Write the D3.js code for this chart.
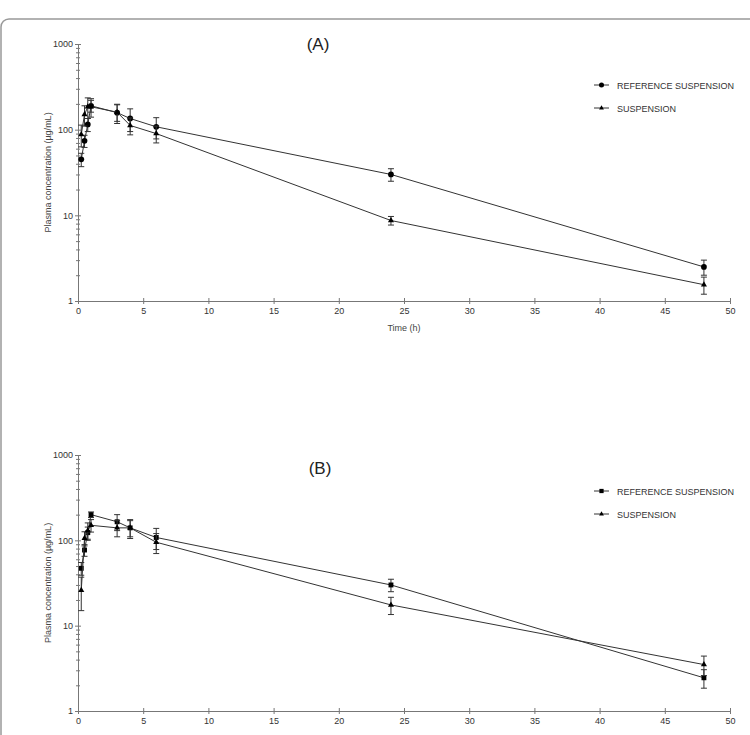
<!DOCTYPE html>
<html>
<head>
  <meta charset="utf-8">
  <title>Plasma concentration</title>
  <script src="https://cdn.jsdelivr.net/npm/d3@7/dist/d3.min.js"></script>
  <style>
    body { margin: 0; background: #fff; }
    svg { display: block; font-family: "Liberation Sans", Arial, sans-serif; }
    .axis path, .axis line { stroke: #777; }
    .axis text { fill: #333; font-size: 9px; }
  </style>
</head>
<body>
<svg id="chart" width="750" height="735"></svg>
<script>
  // sampling times (h)
  const times = [0.25, 0.5, 0.75, 1, 3, 4, 6, 24, 48];
  const seriesNames = ['REFERENCE SUSPENSION', 'SUSPENSION'];
  const xTicks = [0, 5, 10, 15, 20, 25, 30, 35, 40, 45, 50];
  const yLabels = [1, 10, 100, 1000];

  // panel A, mean and SD (µg/mL)
  const refA = [45, 74, 115, 190, 158, 135, 108, 30, 2.5];
  const refA_sd = [8, 12, 20, 30, 40, 40, 30, 5, 0.5];
  const susA = [88, 150, 185, 185, 160, 112, 90, 8.7, 1.55];
  const susA_sd = [25, 40, 50, 45, 35, 25, 20, 1, 0.35];

  // panel B
  const refB = [47, 77, 123, 200, 165, 140, 108, 30, 2.45];
  const refB_sd = [8, 12, 20, 15, 35, 35, 30, 5, 0.6];
  const susB = [26, 106, 130, 150, 140, 140, 95, 17.5, 3.5];
  const susB_sd = [11, 20, 30, 25, 30, 30, 25, 4, 0.9];

  const svg = d3.select('#chart');

  // figure frame (rounded box, only top shows)
  svg.append('rect')
    .attr('x', 1).attr('y', 19)
    .attr('width', 770).attr('height', 800)
    .attr('rx', 8)
    .attr('fill', 'none')
    .attr('stroke', '#999')
    .attr('stroke-width', 1.5);

  function panel(opt) {
    const x = d3.scaleLinear().domain([0, 50]).range([78, 730]);
    const y = d3.scaleLog().domain([1, 1000]).range([opt.bottom, opt.top]);

    // minor ticks for the log axis
    let minor = [];
    [1, 10, 100].forEach(d => { for (let k = 2; k <= 9; k++) minor.push(d * k); });

    const yMinor = svg.append('g')
      .attr('class', 'axis')
      .attr('transform', 'translate(78,0)')
      .call(d3.axisLeft(y).tickValues(minor).tickSize(2).tickFormat(''));
    yMinor.select('.domain').remove();
    yMinor.selectAll('.tick line').attr('x1', 2);

    const yAxis = svg.append('g')
      .attr('class', 'axis')
      .attr('transform', 'translate(78,0)')
      .call(d3.axisLeft(y).tickValues(yLabels).tickSize(3).tickSizeOuter(0)
        .tickFormat(d3.format('d')));
    yAxis.selectAll('.tick line').attr('x1', 3);
    yAxis.selectAll('.tick text').attr('x', -5);

    const xAxis = svg.append('g')
      .attr('class', 'axis')
      .attr('transform', `translate(0,${opt.bottom})`)
      .call(d3.axisBottom(x).tickValues(xTicks).tickSize(3).tickSizeOuter(0));
    xAxis.selectAll('.tick line').attr('y1', -3);
    xAxis.selectAll('.tick text').attr('y', 7);

    svg.append('text')
      .attr('transform', `translate(51,${(opt.top + opt.bottom) / 2}) rotate(-90)`)
      .attr('text-anchor', 'middle')
      .attr('font-size', 9)
      .attr('fill', '#444')
      .text('Plasma concentration (µg/mL)');

    if (opt.xTitle) {
      svg.append('text')
        .attr('x', (78 + 730) / 2).attr('y', opt.bottom + 30)
        .attr('text-anchor', 'middle')
        .attr('font-size', 9)
        .attr('fill', '#444')
        .text(opt.xTitle);
    }

    svg.append('text')
      .attr('x', opt.titleX).attr('y', opt.titleY)
      .attr('text-anchor', 'middle')
      .attr('font-size', 17)
      .attr('fill', '#222')
      .text(opt.title);

    const line = d3.line().x(d => x(d.t)).y(d => y(d.v));
    const sym = [opt.refSymbol, d3.symbolTriangle];
    const symSize = [opt.refSymbol === d3.symbolSquare ? 24 : 26, 16];

    opt.series.forEach((s, i) => {
      const pts = times.map((t, j) => ({ t: t, v: s.mean[j], sd: s.sd[j] }));
      const g = svg.append('g');

      g.append('path')
        .datum(pts)
        .attr('d', line)
        .attr('fill', 'none')
        .attr('stroke', '#333')
        .attr('stroke-width', 1);

      // error bars
      const lo = d => y(Math.max(d.v - d.sd, 1.01));
      const eb = g.selectAll('.eb').data(pts).enter().append('g');
      eb.append('line')
        .attr('x1', d => x(d.t)).attr('x2', d => x(d.t))
        .attr('y1', d => y(d.v + d.sd)).attr('y2', lo)
        .attr('stroke', '#333');
      eb.append('line')
        .attr('x1', d => x(d.t) - 3).attr('x2', d => x(d.t) + 3)
        .attr('y1', d => y(d.v + d.sd)).attr('y2', d => y(d.v + d.sd))
        .attr('stroke', '#333');
      eb.append('line')
        .attr('x1', d => x(d.t) - 3).attr('x2', d => x(d.t) + 3)
        .attr('y1', lo).attr('y2', lo)
        .attr('stroke', '#333');

      g.selectAll('.mk').data(pts).enter().append('path')
        .attr('transform', d => `translate(${x(d.t)},${y(d.v)})`)
        .attr('d', d3.symbol().type(sym[i]).size(symSize[i]))
        .attr('fill', '#000');

      // legend
      const ly = opt.legendY + i * 23;
      svg.append('line')
        .attr('x1', 594).attr('x2', 609).attr('y1', ly).attr('y2', ly)
        .attr('stroke', '#333');
      svg.append('path')
        .attr('transform', `translate(601.5,${ly})`)
        .attr('d', d3.symbol().type(sym[i]).size(symSize[i] - 6))
        .attr('fill', '#000');
      svg.append('text')
        .attr('x', 617).attr('y', ly + 3.5)
        .attr('font-size', 9)
        .attr('fill', '#333')
        .text(seriesNames[i]);
    });
  }

  panel({
    top: 44, bottom: 301, title: '(A)', titleX: 318, titleY: 50,
    xTitle: 'Time (h)', legendY: 85, refSymbol: d3.symbolCircle,
    series: [{ mean: refA, sd: refA_sd }, { mean: susA, sd: susA_sd }]
  });

  panel({
    top: 455, bottom: 711, title: '(B)', titleX: 320, titleY: 474,
    xTitle: null, legendY: 491, refSymbol: d3.symbolSquare,
    series: [{ mean: refB, sd: refB_sd }, { mean: susB, sd: susB_sd }]
  });
</script>
</body>
</html>
